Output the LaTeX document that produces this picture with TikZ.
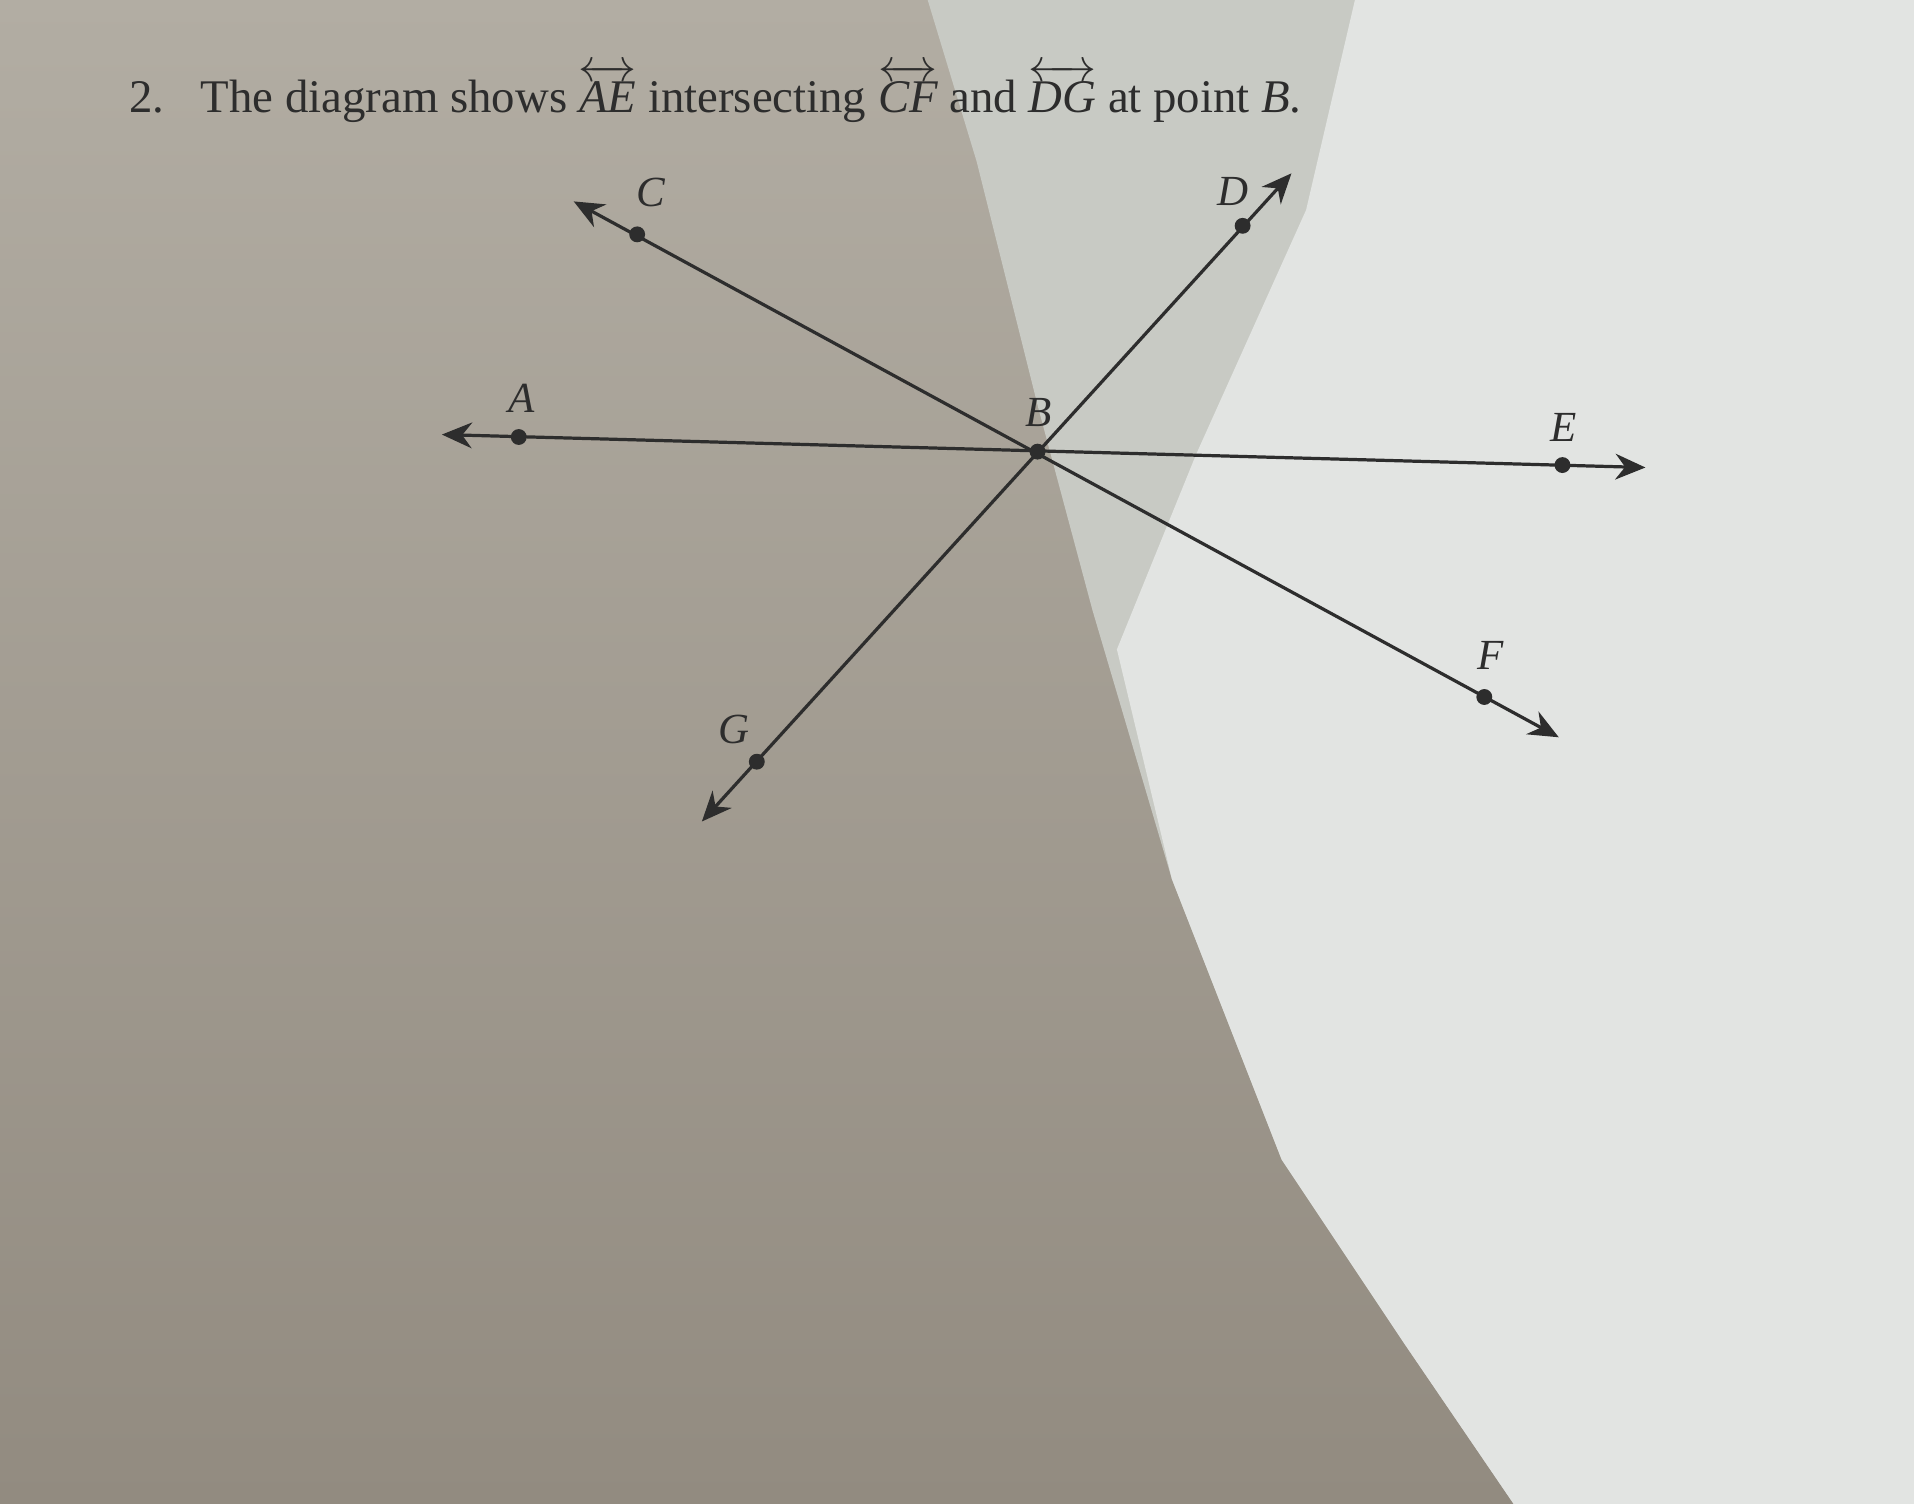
\documentclass[tikz,border=0pt]{standalone}
\usepackage{amsmath}
\usepackage{fontspec}
\setmainfont{Liberation Serif}
\usetikzlibrary{arrows.meta,positioning}

\definecolor{papertop}{RGB}{178,173,163}
\definecolor{paperbot}{RGB}{146,139,128}
\definecolor{papermid}{RGB}{200,202,196}
\definecolor{paperlit}{RGB}{226,228,226}
\definecolor{ink}{RGB}{45,45,45}

\begin{document}
\begin{tikzpicture}[x=0.01cm, y=0.01cm,
		pt/.style={circle, fill=ink, inner sep=0pt, minimum size=0.13cm},
		lbl/.style={font=\fontsize{10}{12}\selectfont\itshape, text=ink, inner sep=0pt},
		ray/.style={draw=ink, line width=0.75pt, {Stealth[length=7pt,width=6pt]}-{Stealth[length=7pt,width=6pt]}},
		]

	\useasboundingbox (0,0) rectangle (1568,1232);

	% --- paper ---
	\shade[top color=papertop, bottom color=paperbot] (0,0) rectangle (1568,1232);
	\fill[papermid] (760,1232) -- (1568,1232) -- (1568,0) -- (1240,0) -- (1150,132) -- (1050,282) -- (960,512) -- (895,732) -- (850,900) -- (800,1100) -- cycle;
	\fill[paperlit] (1110,1232) -- (1568,1232) -- (1568,0) -- (1240,0) -- (1150,132) -- (1050,282) -- (960,512) -- (915,700) -- (980,860) -- (1070,1060) -- cycle;

	% --- title ---
	\node[anchor=base west, inner sep=0pt, text=ink, font=\fontsize{10.9}{13}\selectfont] (title) at (105,1140)
		{2.\hspace{0.3cm}The diagram shows $\overleftrightarrow{\textit{AE}}$ intersecting $\overleftrightarrow{\textit{CF}}$ and $\overleftrightarrow{\textit{DG}}$ at point \textit{B}.};

	% --- ends of the lines ---
	\coordinate (tA) at (362,876);
	\coordinate (tE) at (1348,849);
	\coordinate (tC) at (470,1067);
	\coordinate (tF) at (1277,628);
	\coordinate (tD) at (1058,1090);
	\coordinate (tG) at (575,559);

	\draw[ray] (tA) -- (tE);
	\draw[ray] (tC) -- (tF);
	\draw[ray] (tG) -- (tD);

	% --- points ---
	\node[pt] (A) at (425,874) {};
	\node[pt] (B) at (850,862) {};
	\node[pt] (E) at (1280,851) {};
	\node[pt] (C) at (522,1040) {};
	\node[pt] (F) at (1216,661) {};
	\node[pt] (D) at (1018,1047) {};
	\node[pt] (G) at (620,608) {};

	% --- labels ---
	\node[lbl] (lA) at (427,906) {A};
	\node[lbl] (lB) at (851,894) {B};
	\node[lbl] (lC) at (533,1074) {C};
	\node[lbl] (lD) at (1010,1075) {D};
	\node[lbl] (lE) at (1281,882) {E};
	\node[lbl] (lF) at (1221,695) {F};
	\node[lbl] (lG) at (601,634) {G};

\end{tikzpicture}
\end{document}
